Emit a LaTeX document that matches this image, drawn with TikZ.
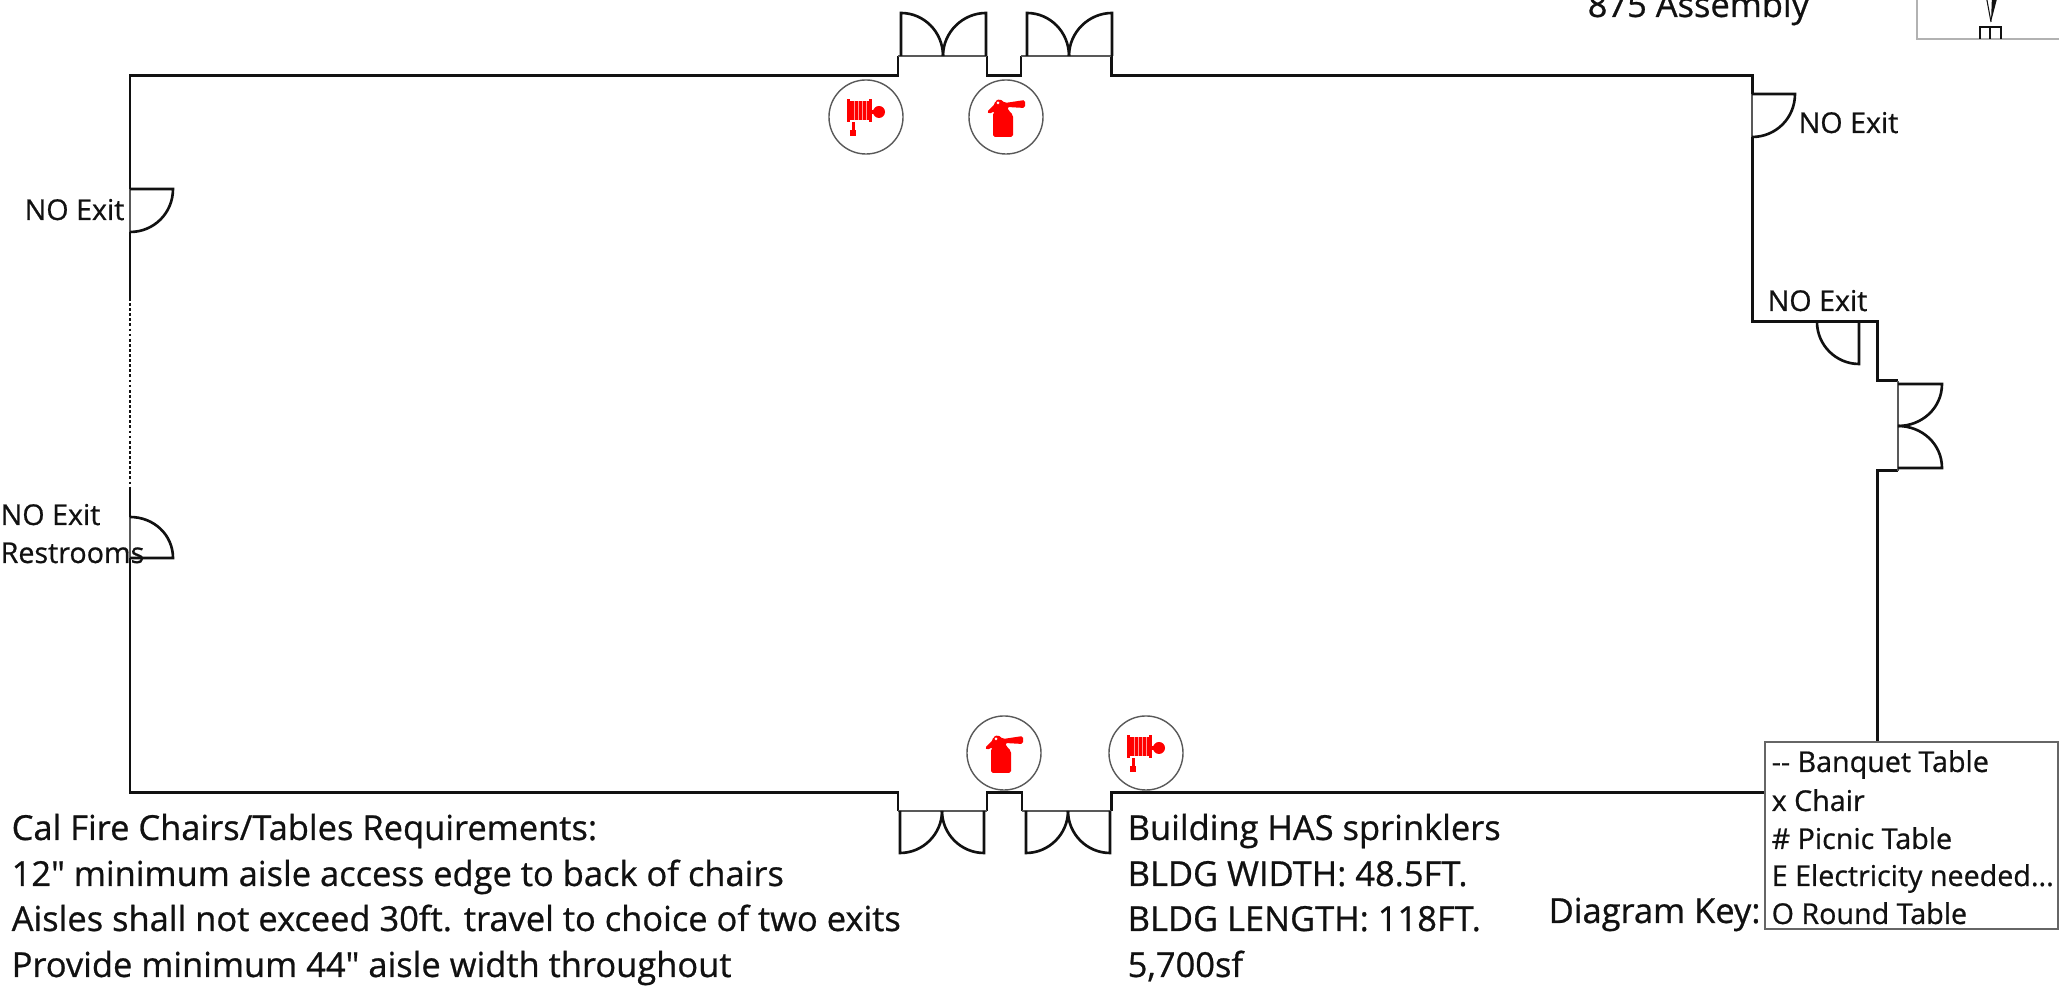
\documentclass[tikz,border=0pt]{standalone}
\usepackage{fontspec}
\setmainfont{Open Sans}[Ligatures=TeXOff, FakeBold=0.7]
\definecolor{inkblack}{HTML}{111111}
\tikzset{
    wall/.style={line width=0.85pt, inkblack, line join=miter},
    leaf/.style={line width=0.75pt, inkblack},
    sill/.style={line width=0.45pt, black!65},
    ring/.style={draw=black!65, line width=0.4pt, circle, minimum size=0.74cm, inner sep=0pt},
    bigtext/.style={anchor=base west, inner sep=0pt, text=inkblack, font=\fontsize{9.8pt}{11pt}\selectfont},
    smalltext/.style={anchor=base west, inner sep=0pt, text=inkblack, font=\fontsize{8.15pt}{10pt}\selectfont},
    hosereel/.pic={
        \fill[red] (-19,-18) rectangle (-16,5);
        \fill[red] (-17,-16) rectangle (4,3);
        \fill[red] (3,-18) rectangle (6,5);
        \fill[red] (6,-7) rectangle (9,-3);
        \fill[red] (13,-5) circle (6);
        \foreach \xpos in {-12,-8,-4,0}
            \draw[white, opacity=0.6, line width=0.25pt] (\xpos,-16) -- (\xpos,3);
        \fill[red] (-14.5,5) rectangle (-11.5,13);
        \fill[red] (-16,13) rectangle (-10,19);
    },
    extinguisher/.pic={
        \fill[red, rounded corners=0.5pt] (-19,-5) -- (-11,-13) -- (-11,-16) -- (-6,-18) -- (-1,-14)
            -- (19,-17) -- (19,-9) -- (1,-10) -- (3,-6) -- (7,-2) -- (7,20) -- (-13,20) -- (-13,-4) -- (-11,-6) -- (-17,-3) -- cycle;
        \fill[white] (-8,-14) circle (1.5);
    }
}
\begin{document}
\begin{tikzpicture}[x=0.01cm, y=-0.01cm]
    \clip (0,0) rectangle (2059,989);

    % North arrow box, cut by the page
    \draw[black!30, line width=0.5pt] (1917,-10) -- (1917,39) -- (2070,39);
    \fill[inkblack] (1992,-5) -- (1998,-5) -- (1991,22) -- cycle;
    \draw[inkblack, line width=0.3pt] (1986,-5) -- (1991,22);
    \draw[inkblack, line width=0.7pt] (1980,39) -- (1980,27) -- (2001,27) -- (2001,39);
    \draw[inkblack, line width=0.4pt] (1990,27) -- (1990,39);
    \node[bigtext] (assembly) at (1587,17) {875 Assembly};

    % Outer walls
    \draw[wall] (130,298) -- (130,232);
    \draw[wall] (130,189) -- (130,76) -- (898,76) -- (898,56);
    \draw[wall] (987,56) -- (987,76) -- (1021,76) -- (1021,56);
    \draw[wall] (1111,56) -- (1111,76) -- (1752,76) -- (1752,94);
    \draw[wall] (1752,137) -- (1752,322) -- (1877,322) -- (1877,381) -- (1898,381);
    \draw[wall] (1898,471) -- (1877,471) -- (1877,760);
    \draw[wall] (130,488) -- (130,517);
    \draw[wall] (130,558) -- (130,793) -- (898,793) -- (898,811);
    \draw[wall] (987,811) -- (987,793) -- (1022,793) -- (1022,811);
    \draw[wall] (1111,811) -- (1111,793) -- (1770,793);
    \draw[wall, dash pattern=on 0.8pt off 0.65pt] (130,298) -- (130,488);

    % Thin door openings
    \draw[sill] (898,56) -- (987,56);
    \draw[sill] (1021,56) -- (1111,56);
    \draw[sill] (898,811) -- (987,811);
    \draw[sill] (1022,811) -- (1111,811);
    \draw[sill] (1752,94) -- (1752,137);
    \draw[sill] (1898,381) -- (1898,471);
    \draw[sill] (130,189) -- (130,232);
    \draw[sill] (130,517) -- (130,558);

    % Top double doors
    \draw[leaf] (901,56) -- (901,13) .. controls (924,13) and (943,32) .. (943,56);
    \draw[leaf] (986,56) -- (986,13) .. controls (963,13) and (943,32) .. (943,56);
    \draw[leaf] (1027,56) -- (1027,13) .. controls (1050,13) and (1069,32) .. (1069,56);
    \draw[leaf] (1112,56) -- (1112,13) .. controls (1089,13) and (1069,32) .. (1069,56);

    % Bottom double doors
    \draw[leaf] (900,811) -- (900,853) .. controls (923,853) and (942,834) .. (942,811);
    \draw[leaf] (984,811) -- (984,853) .. controls (961,853) and (942,834) .. (942,811);
    \draw[leaf] (1026,811) -- (1026,853) .. controls (1049,853) and (1068,834) .. (1068,811);
    \draw[leaf] (1110,811) -- (1110,853) .. controls (1087,853) and (1068,834) .. (1068,811);

    % Right double door
    \draw[leaf] (1898,384) -- (1942,384) .. controls (1942,408) and (1922,426) .. (1898,426);
    \draw[leaf] (1898,468) -- (1942,468) .. controls (1942,444) and (1922,426) .. (1898,426);

    % Single doors
    \draw[leaf] (1752,94) -- (1795,94) .. controls (1795,118) and (1776,137) .. (1752,137);
    \draw[leaf] (1859,322) -- (1859,364) .. controls (1836,364) and (1817,345) .. (1817,322);
    \draw[leaf] (130,189) -- (173,189) .. controls (173,213) and (154,232) .. (130,232);
    \draw[leaf] (130,558) -- (173,558) .. controls (173,535) and (154,517) .. (130,517);

    % Fire equipment
    \node[ring] (hoseTop) at (866,117) {};
    \pic at (hoseTop.center) {hosereel};
    \node[ring] (fireTop) at (1006,117) {};
    \pic at (fireTop.center) {extinguisher};
    \node[ring] (fireBottom) at (1004,753) {};
    \pic at (fireBottom.center) {extinguisher};
    \node[ring] (hoseBottom) at (1146,753) {};
    \pic at (hoseBottom.center) {hosereel};

    % Door labels
    \node[smalltext] (exitNE) at (1798,133) {NO Exit};
    \node[smalltext] (exitE) at (1767,311) {NO Exit};
    \node[smalltext] (exitNW) at (24,220) {NO Exit};
    \node[smalltext] (exitSW) at (0,525) {NO Exit};
    \node[smalltext] (restrooms) at (0,563) {Restrooms};

    % Requirements
    \node[bigtext] (reqA) at (11,840) {Cal Fire Chairs/Tables Requirements:};
    \node[bigtext] (reqB) at (11,886) {12" minimum aisle access edge to back of chairs};
    \node[bigtext] (reqC) at (11,931) {Aisles shall not exceed 30ft. travel to choice of two exits};
    \node[bigtext] (reqD) at (11,977) {Provide minimum 44" aisle width throughout};

    % Building data
    \node[bigtext] (bldgA) at (1127,840) {Building HAS sprinklers};
    \node[bigtext] (bldgB) at (1127,886) {BLDG WIDTH: 48.5FT.};
    \node[bigtext] (bldgC) at (1127,931) {BLDG LENGTH: 118FT.};
    \node[bigtext] (bldgD) at (1127,977) {5,700sf};

    % Diagram key
    \node[bigtext] (keyTitle) at (1548,923) {Diagram Key:};
    \draw[fill=white, draw=black!60, line width=0.5pt] (1765,742) rectangle (2058,929);
    \node[smalltext] (keyA) at (1771,772) {-- Banquet Table};
    \node[smalltext] (keyB) at (1771,811) {x Chair};
    \node[smalltext] (keyC) at (1771,849) {\# Picnic Table};
    \node[smalltext] (keyD) at (1771,886) {E Electricity needed...};
    \node[smalltext] (keyE) at (1771,924) {O Round Table};
\end{tikzpicture}
\end{document}
